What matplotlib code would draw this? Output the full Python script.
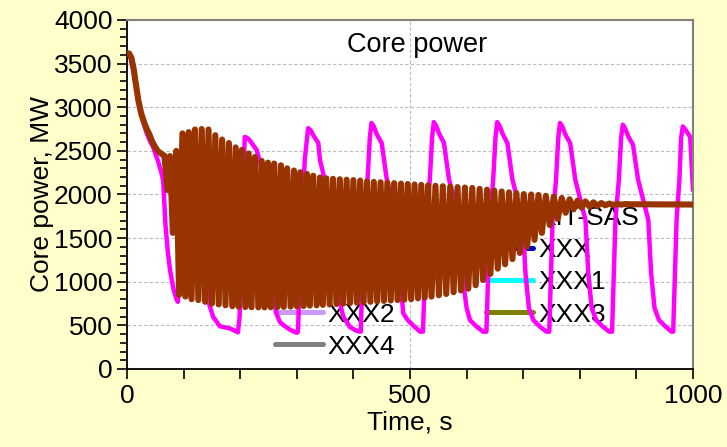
import matplotlib
matplotlib.use("Agg")
import matplotlib.pyplot as plt
from matplotlib.ticker import MultipleLocator

plt.rcParams['font.family'] = ['Liberation Sans', 'DejaVu Sans']

# ---------------- data ----------------
series_names = ["KIT-SIM", "KIT-SAS", "PSI", "XXX", "SIMMER", "XXX1", "XXX2", "XXX3", "XXX4"]
series_colors = ["#FF00FF", "#FF6600", "#008000", "#0000CC", "#993300", "#00FFFF", "#CC99FF", "#808000", "#808080"]

kit_sim_t = [0, 5, 10, 15, 20, 25, 30, 35, 40, 46, 55, 62, 64, 66, 68, 72, 76, 82, 88, 90,
             93, 97, 101, 108, 115, 125, 134, 140, 143, 152, 164, 182, 196,
             199, 202, 205, 208, 212, 217, 229, 235, 245, 255, 260, 265, 270, 276, 288, 300,
             302, 308, 314, 320, 324, 329, 338, 341, 350, 368, 373, 378, 382, 394, 405, 412,
             413, 419, 425, 429, 432, 436, 442, 450, 459, 477, 482, 488, 496, 507, 518,
             523, 529, 535, 539, 542, 546, 552, 560, 569, 588, 594, 600, 606, 617, 629,
             635, 641, 647, 651, 654, 658, 664, 672, 681, 699, 704, 710, 718, 729, 741,
             746, 752, 758, 762, 765, 769, 775, 783, 792, 810, 815, 821, 829, 840, 852,
             857, 863, 869, 873, 876, 880, 886, 894, 903, 921, 926, 932, 940, 951, 962,
             965, 971, 976, 979, 982, 986, 995, 1000]
kit_sim_p = [3620, 3600, 3480, 3280, 3080, 2920, 2800, 2700, 2620, 2545, 2380, 2220, 2150, 1900, 1650, 1350, 1135, 920, 790, 770,
             1500, 2600, 2650, 2550, 2300, 2000, 1500, 1000, 790, 600, 490, 465, 420,
             600, 1400, 2100, 2660, 2650, 2620, 2510, 2375, 2100, 1500, 750, 620, 540, 505, 450, 415,
             425, 1500, 2395, 2760, 2740, 2680, 2590, 2395, 2150, 1710, 1100, 710, 600, 480, 440, 428,
             428, 1710, 2170, 2650, 2820, 2780, 2680, 2590, 2170, 1710, 1100, 640, 560, 490, 428,
             428, 1710, 2170, 2650, 2830, 2790, 2690, 2590, 2170, 1710, 1000, 700, 560, 490, 428,
             428, 1710, 2170, 2650, 2830, 2790, 2690, 2590, 2170, 1710, 1100, 700, 560, 490, 428,
             428, 1710, 2170, 2650, 2820, 2780, 2680, 2590, 2170, 1710, 1100, 700, 560, 490, 428,
             428, 1710, 2170, 2650, 2800, 2760, 2660, 2570, 2170, 1710, 1100, 700, 560, 490, 428,
             428, 1710, 2170, 2650, 2780, 2750, 2660, 2050]

simmer_t = [0, 4, 8, 12, 16, 20, 25, 30, 35, 40, 45, 50, 55, 60, 66,
            72, 76, 81, 87, 92, 98, 103, 109, 114, 120, 126, 132, 138, 144, 150, 156, 162, 168,
            174, 180, 186, 192, 197, 203, 209, 215, 220, 226, 232, 238, 243, 249, 254, 260,
            266, 272, 277, 283, 289, 295, 300, 306, 312, 318, 323, 329, 335, 341, 346, 352,
            358, 364, 370, 376, 382, 388, 394, 400, 406, 412, 418, 424, 430, 436, 442, 448,
            454, 460, 466, 472, 478, 484, 490, 496, 502, 508, 514, 520, 526, 532, 538, 545,
            551, 558, 564, 571, 577, 584, 590, 597, 603, 610, 616, 623, 629, 636, 642, 649,
            655, 662, 668, 675, 681, 688, 694, 701, 707, 714, 720, 727, 733, 740, 747, 754,
            761, 768, 775, 782, 789, 796, 803, 810, 817, 824, 831, 838, 845, 852, 859, 866,
            873, 880, 890, 1000]
simmer_p = [3620, 3615, 3560, 3430, 3250, 3080, 2930, 2830, 2750, 2680, 2600, 2540, 2495, 2470, 2445,
            2050, 2440, 1560, 2500, 850, 2700, 830, 2715, 800, 2745, 790, 2750, 770, 2745, 750, 2680, 740, 2630,
            730, 2590, 720, 2540, 715, 2510, 710, 2470, 708, 2430, 706, 2385, 706, 2365, 708, 2355,
            710, 2335, 712, 2300, 715, 2275, 718, 2255, 722, 2235, 726, 2215, 730, 2195, 735, 2185,
            740, 2180, 745, 2175, 750, 2170, 755, 2165, 760, 2160, 765, 2150, 770, 2145, 775, 2140,
            780, 2135, 785, 2130, 790, 2125, 795, 2120, 800, 2115, 810, 2110, 820, 2105, 830, 2100,
            845, 2095, 860, 2090, 880, 2085, 900, 2080, 920, 2075, 960, 2065, 1020, 2055, 1090, 2045,
            1150, 2035, 1200, 2025, 1260, 2015, 1330, 2005, 1400, 2000, 1480, 1995, 1560, 1985, 1650, 1975,
            1720, 1960, 1790, 1945, 1830, 1930, 1850, 1920, 1862, 1910, 1870, 1902, 1876, 1896, 1880, 1893,
            1884, 1890, 1888, 1885]

series_data = {
    "KIT-SIM": (kit_sim_t, kit_sim_p),
    "SIMMER": (simmer_t, simmer_p),
}

x_ticks = [0, 500, 1000]
y_ticks = [0, 500, 1000, 1500, 2000, 2500, 3000, 3500, 4000]

# ---------------- figure ----------------
fig = plt.figure(figsize=(7.27, 4.47), dpi=100, facecolor="#FFFFCC")
ax = fig.add_axes([127 / 727, 78 / 447, 566 / 727, 349 / 447])
ax.set_facecolor("white")

handles = {}
for name, col in zip(series_names, series_colors):
    t, p = series_data.get(name, ([], []))
    z = 3 if name == "SIMMER" else 2.5
    lw = 4.4 if name == "SIMMER" else 3.2
    ln, = ax.plot(t, p, color=col, lw=lw, zorder=z, label=name,
                  solid_joinstyle="round", solid_capstyle="round")
    handles[name] = ln

ax.set_xlim(0, 1000)
ax.set_ylim(0, 4000)
ax.set_xticks(x_ticks)
ax.set_yticks(y_ticks)
ax.xaxis.set_minor_locator(MultipleLocator(100))
ax.yaxis.set_minor_locator(MultipleLocator(100))
ax.tick_params(axis="both", which="major", labelsize=19, direction="out", length=7, width=1.2, color="black")
ax.tick_params(axis="x", which="minor", direction="out", length=7, width=1.2)
ax.tick_params(axis="y", which="minor", direction="out", length=5, width=1.2)
ax.grid(True, which="major", color="#BBBBBB", linestyle=(0, (3, 2)), linewidth=0.8, zorder=0)
ax.set_axisbelow(True)

for side in ("left", "bottom"):
    ax.spines[side].set_color("black")
    ax.spines[side].set_linewidth(1.3)
for side in ("top", "right"):
    ax.spines[side].set_color("#808080")
    ax.spines[side].set_linewidth(1.5)

ax.set_xlabel("Time, s", fontsize=19, labelpad=2)
ax.set_ylabel("Core power, MW", fontsize=19, labelpad=0)
ax.text(0.513, 0.928, "Core power", transform=ax.transAxes, fontsize=19.5,
        ha="center", va="center", zorder=1)

col1 = ["KIT-SIM", "PSI", "SIMMER", "XXX2", "XXX4"]
col2 = ["KIT-SAS", "XXX", "XXX1", "XXX3"]
leg_order = col1 + col2
leg = ax.legend([handles[n] for n in leg_order], leg_order, ncol=2, loc="upper left",
                bbox_to_anchor=((275 - 127) / 566, (369 - 206) / 349), frameon=False,
                fontsize=19, handlelength=1.8, handletextpad=0.2, columnspacing=2.0,
                labelspacing=0.31, borderpad=0, borderaxespad=0)
leg.set_zorder(1)
for lh in leg.get_lines():
    lh.set_linewidth(3.6)

fig.savefig("out.png", dpi=100, facecolor=fig.get_facecolor())
